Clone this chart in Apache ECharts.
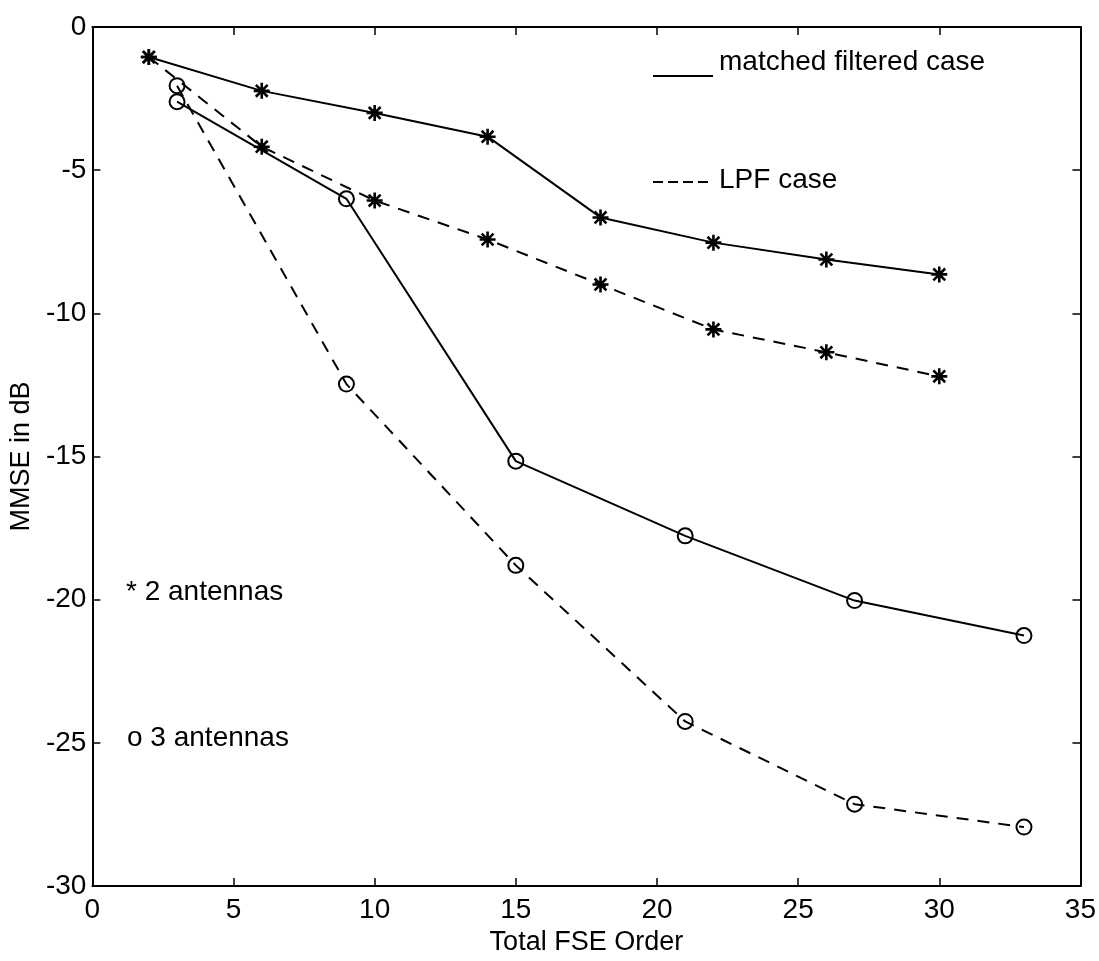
<!DOCTYPE html>
<html>
<head>
<meta charset="utf-8">
<script src="https://cdn.jsdelivr.net/npm/echarts@6/dist/echarts.min.js"></script>
<style>
html,body{margin:0;padding:0;background:#fff;}
#chart{width:1099px;height:961px;}
</style>
</head>
<body>
<div id="chart"></div>
<script>
// Data
const orders2 = [2, 6, 10, 14, 18, 22, 26, 30];
const matched2 = [-1.05, -2.23, -3.0, -3.83, -6.65, -7.53, -8.12, -8.64];
const lpf2 = [-1.05, -4.18, -6.06, -7.42, -8.99, -10.56, -11.36, -12.2];
const orders3 = [3, 9, 15, 21, 27, 33];
const matched3 = [-2.61, -6.0, -15.16, -17.77, -20.03, -21.25];
const lpf3 = [-2.05, -12.47, -18.8, -24.25, -27.14, -27.94];
const xTicks = [0, 5, 10, 15, 20, 25, 30, 35];
const yTicks = [0, -5, -10, -15, -20, -25, -30];

const FONT = "'Liberation Sans', Arial, Helvetica, sans-serif";
const STAR = 'path://M5 0 L5 10 M0 5 L10 5 M1.3 1.3 L8.7 8.7 M8.7 1.3 L1.3 8.7';

function pairs(xs, ys) { return xs.map((x, i) => [x, ys[i]]); }

function mkSeries(name, xs, ys, dashed, star) {
  return {
    name: name,
    type: 'line',
    xAxisIndex: 0, yAxisIndex: 0,
    data: pairs(xs, ys),
    symbol: star ? STAR : 'circle',
    symbolSize: star ? 16 : 15,
    showAllSymbol: true,
    lineStyle: { color: '#000', width: 2, type: dashed ? [12, 9] : 'solid' },
    itemStyle: { color: 'transparent', borderColor: '#000', borderWidth: star ? 2.6 : 2 },
    emphasis: { disabled: true },
    z: 3
  };
}

const chart = echarts.init(document.getElementById('chart'), null, { renderer: 'canvas' });

const axisCommon = {
  type: 'value',
  axisLine: { show: true, onZero: false, lineStyle: { color: '#000', width: 2 } },
  axisTick: { show: true, inside: true, length: 8, lineStyle: { color: '#000', width: 1.5 } },
  splitLine: { show: false }
};

chart.setOption({
  animation: false,
  backgroundColor: '#fff',
  grid: { left: 92, right: 18, top: 27, bottom: 73, containLabel: false },
  xAxis: [
    Object.assign({}, axisCommon, {
      position: 'bottom', min: 0, max: 35, interval: 5,
      name: 'Total FSE Order', nameLocation: 'middle', nameGap: 40,
      nameTextStyle: { fontFamily: FONT, fontSize: 27, color: '#000' },
      axisLabel: { fontFamily: FONT, fontSize: 28, color: '#000', margin: 10,
        formatter: v => xTicks.includes(v) ? String(v) : '' }
    }),
    Object.assign({}, axisCommon, {
      position: 'top', min: 0, max: 35, interval: 5,
      axisLabel: { show: false }
    })
  ],
  yAxis: [
    Object.assign({}, axisCommon, {
      position: 'left', min: -30, max: 0, interval: 5,
      name: 'MMSE in dB', nameLocation: 'middle', nameGap: 54, nameRotate: 90,
      nameTextStyle: { fontFamily: FONT, fontSize: 27, color: '#000' },
      axisLabel: { fontFamily: FONT, fontSize: 28, color: '#000', margin: 6,
        formatter: v => yTicks.includes(v) ? String(v) : '' }
    }),
    Object.assign({}, axisCommon, {
      position: 'right', min: -30, max: 0, interval: 5,
      axisLabel: { show: false }
    })
  ],
  series: [
    mkSeries('matched 2', orders2, matched2, false, true),
    mkSeries('LPF 2', orders2, lpf2, true, true),
    mkSeries('matched 3', orders3, matched3, false, false),
    mkSeries('LPF 3', orders3, lpf3, true, false)
  ],
  graphic: [
    { type: 'line', shape: { x1: 653, y1: 76, x2: 713, y2: 76 },
      style: { stroke: '#000', lineWidth: 2 } },
    { type: 'text', left: 719, top: 48,
      style: { text: 'matched filtered case', font: '28px ' + FONT, fill: '#000' } },
    { type: 'line', shape: { x1: 653, y1: 182, x2: 713, y2: 182 },
      style: { stroke: '#000', lineWidth: 2, lineDash: [10, 5] } },
    { type: 'text', left: 719, top: 166,
      style: { text: 'LPF case', font: '28px ' + FONT, fill: '#000' } },
    { type: 'text', left: 126, top: 578,
      style: { text: '* 2 antennas', font: '28px ' + FONT, fill: '#000' } },
    { type: 'text', left: 127, top: 724,
      style: { text: 'o 3 antennas', font: '28px ' + FONT, fill: '#000' } }
  ]
});
</script>
</body>
</html>
